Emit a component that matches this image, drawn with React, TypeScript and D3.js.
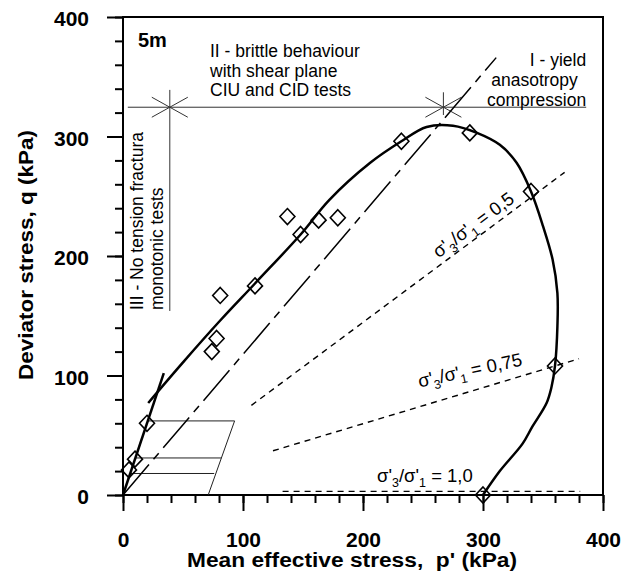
import React, { useEffect, useRef } from "react";
import * as d3 from "d3";

// test results, p' and q in kPa
const testP = [5, 10, 20, 74, 78, 81, 110, 137, 148, 163, 179, 232, 289, 340, 360, 300];
const testQ = [21, 30, 60, 120, 131, 167, 175, 233, 218, 230, 232, 296, 303, 254, 108, 0];

// yield / failure curve
const curveP = [21, 50, 81, 110, 148, 172, 206, 232, 253, 275, 295, 314, 328, 340, 350, 358, 362, 362, 360, 357, 353, 341, 333, 314, 300];
const curveQ = [77, 111, 146, 177, 218, 247, 278, 296, 308, 309, 303, 293, 278, 254, 225, 197, 169, 141, 108, 90, 77, 57, 43, 20, 0];

// steep initial line and the dash-dot envelope
const initialP = [0, 34];
const initialQ = [0, 102];
const envelopeP = [0, 311];
const envelopeQ = [0, 366];

// constant stress ratio lines
const ratioLabels = ["0,5", "0,75", "1,0"];
const ratioStartP = [107, 125, 133];
const ratioStartQ = [75, 37, 3];
const ratioEndP = [368, 380, 381];
const ratioEndQ = [270, 114, 3];

// small hatched box near the origin
const boxQ = [62, 31, 18];
const boxStartP = [20.5, 10.3, 6];
const boxEndP = [93, 82, 76];
const boxSideP = [71, 93];
const boxSideQ = [0, 62];

// zone boundaries
const zoneQ = 324.5;
const zoneP = [4, 386];
const starP = [39, 267];
const starVertTop = [339, 337];
const starVertBottom = [154, 318];

const majorTicks = [0, 100, 200, 300, 400];
const minorTicks = d3.range(0, 401, 20);

const font = "'Liberation Sans', Arial, sans-serif";

export default function App() {
  const ref = useRef<SVGSVGElement>(null);

  useEffect(() => {
    const svg = d3.select(ref.current);
    svg.selectAll("*").remove();

    const x = d3.scaleLinear().domain([0, 400]).range([123, 603]);
    const y = d3.scaleLinear().domain([0, 400]).range([495, 17]);

    const g = svg.append("g").attr("font-family", font);

    // axes (minor + major ticks)
    const xMinor = g.append("g").attr("transform", `translate(0,${y(0)})`)
      .call(d3.axisBottom(x).tickValues(minorTicks).tickSize(8).tickFormat(() => ""));
    const xMajor = g.append("g").attr("transform", `translate(0,${y(0)})`)
      .call(d3.axisBottom(x).tickValues(majorTicks).tickSize(16).tickPadding(21));
    const yMinor = g.append("g").attr("transform", `translate(${x(0)},0)`)
      .call(d3.axisLeft(y).tickValues(minorTicks).tickSize(8).tickFormat(() => ""));
    const yMajor = g.append("g").attr("transform", `translate(${x(0)},0)`)
      .call(d3.axisLeft(y).tickValues(majorTicks).tickSize(16).tickPadding(18));

    [xMinor, xMajor, yMinor, yMajor].forEach((a) => {
      a.select(".domain").remove();
      a.selectAll("line").attr("stroke", "#000").attr("stroke-width", 2);
      a.selectAll("text")
        .attr("fill", "#000")
        .attr("font-family", font)
        .attr("font-size", 21)
        .attr("font-weight", "bold");
    });
    yMajor.selectAll("text").attr("dy", "0.42em");

    // frame
    g.append("rect")
      .attr("x", x(0))
      .attr("y", y(400))
      .attr("width", x(400) - x(0))
      .attr("height", y(0) - y(400))
      .attr("fill", "none")
      .attr("stroke", "#000")
      .attr("stroke-width", 2);

    const line = d3.line<[number, number]>().x((d) => x(d[0])).y((d) => y(d[1]));
    const pairs = (ps: number[], qs: number[]) => ps.map((p, i) => [p, qs[i]] as [number, number]);

    // zone boundary lines
    g.append("path")
      .attr("d", line([[zoneP[0], zoneQ], [zoneP[1], zoneQ]]))
      .attr("stroke", "#333").attr("stroke-width", 1).attr("fill", "none");
    starP.forEach((p, i) => {
      g.append("path")
        .attr("d", line([[p, starVertTop[i]], [p, starVertBottom[i]]]))
        .attr("stroke", "#333").attr("stroke-width", 1).attr("fill", "none");
      const cx = x(p), cy = y(zoneQ);
      g.append("path")
        .attr("d", `M${cx - 18},${cy - 10}L${cx + 18},${cy + 10}M${cx - 18},${cy + 10}L${cx + 18},${cy - 10}`)
        .attr("stroke", "#333").attr("stroke-width", 1).attr("fill", "none");
    });

    // small box
    boxQ.forEach((q, i) => {
      g.append("path")
        .attr("d", line([[boxStartP[i], q], [boxEndP[i], q]]))
        .attr("stroke", "#222").attr("stroke-width", 1).attr("fill", "none");
    });
    g.append("path")
      .attr("d", line(pairs(boxSideP, boxSideQ)))
      .attr("stroke", "#222").attr("stroke-width", 1).attr("fill", "none");

    // stress ratio lines
    ratioLabels.forEach((_, i) => {
      g.append("path")
        .attr("d", line([[ratioStartP[i], ratioStartQ[i]], [ratioEndP[i], ratioEndQ[i]]]))
        .attr("stroke", "#000").attr("stroke-width", 1.4)
        .attr("stroke-dasharray", "6 5").attr("fill", "none");
    });

    // envelope
    g.append("path")
      .attr("d", line(pairs(envelopeP, envelopeQ)))
      .attr("stroke", "#000").attr("stroke-width", 1.5)
      .attr("stroke-dasharray", "40 7 8 7").attr("fill", "none");

    // initial steep line
    g.append("path")
      .attr("d", line(pairs(initialP, initialQ)))
      .attr("stroke", "#000").attr("stroke-width", 2.5).attr("fill", "none");

    // curve
    g.append("path")
      .attr("d", d3.line<[number, number]>().x((d) => x(d[0])).y((d) => y(d[1]))
        .curve(d3.curveCatmullRom.alpha(0.5))(pairs(curveP, curveQ)))
      .attr("stroke", "#000").attr("stroke-width", 2.5).attr("fill", "none");

    // test points
    g.selectAll(".pt")
      .data(pairs(testP, testQ))
      .enter()
      .append("path")
      .attr("transform", (d) => `translate(${x(d[0])},${y(d[1])})`)
      .attr("d", "M0,-8L7.5,0L0,8L-7.5,0Z")
      .attr("fill", "none")
      .attr("stroke", "#000")
      .attr("stroke-width", 1.6);

    // ratio labels
    const ratioPos: [number, number, number][] = [
      [263, 198, -36.5],
      [247, 90, -12],
      [211.7, 11, 0],
    ];
    ratioLabels.forEach((lab, i) => {
      const [p, q, a] = ratioPos[i];
      const t = g.append("text")
        .attr("transform", `translate(${x(p)},${y(q)}) rotate(${a})`)
        .attr("font-size", 18.5)
        .style("white-space", "pre");
      t.append("tspan").text("σ'");
      t.append("tspan").attr("font-size", 12.5).attr("dy", 5).text("3");
      t.append("tspan").attr("dy", -5).text("/σ'");
      t.append("tspan").attr("font-size", 12.5).attr("dy", 5).text("1");
      t.append("tspan").attr("dy", -5).text(` = ${lab}`);
    });

    // annotations
    g.append("text")
      .attr("x", x(12.5)).attr("y", y(375))
      .attr("font-size", 20).attr("font-weight", "bold")
      .text("5m");

    const zone2 = g.append("text").attr("font-size", 17.5);
    ["II - brittle behaviour", "with shear plane", "CIU and CID tests"].forEach((s, i) => {
      zone2.append("tspan").attr("x", x(72.5)).attr("y", y(366.5) + i * 19.5).text(s);
    });

    const zone1 = ["I - yield", "anasotropy", "compression"];
    const zone1End = [386, 379, 386];
    zone1.forEach((s, i) => {
      g.append("text")
        .attr("x", x(zone1End[i])).attr("y", y(359) + i * 20)
        .attr("text-anchor", "end")
        .attr("font-size", 17.5)
        .text(s);
    });

    ["III - No tension fractura", "monotonic tests"].forEach((s, i) => {
      g.append("text")
        .attr("transform", `translate(${x(16.7) + i * 20},${y(154.8)}) rotate(-90)`)
        .attr("font-size", 17.5)
        .text(s);
    });

    // axis titles
    g.append("text")
      .attr("x", 352).attr("y", 567)
      .attr("text-anchor", "middle")
      .attr("font-size", 19.5).attr("font-weight", "bold")
      .attr("textLength", 330)
      .attr("lengthAdjust", "spacingAndGlyphs")
      .style("white-space", "pre")
      .text("Mean effective stress,  p' (kPa)");
    g.append("text")
      .attr("transform", "translate(33,255) rotate(-90)")
      .attr("text-anchor", "middle")
      .attr("font-size", 19.5).attr("font-weight", "bold")
      .attr("textLength", 250)
      .attr("lengthAdjust", "spacingAndGlyphs")
      .text("Deviator stress, q (kPa)");
  }, []);

  return (
    <svg
      ref={ref}
      width={634}
      height={578}
      style={{ position: "absolute", left: 0, top: 0, background: "#fff" }}
    />
  );
}
